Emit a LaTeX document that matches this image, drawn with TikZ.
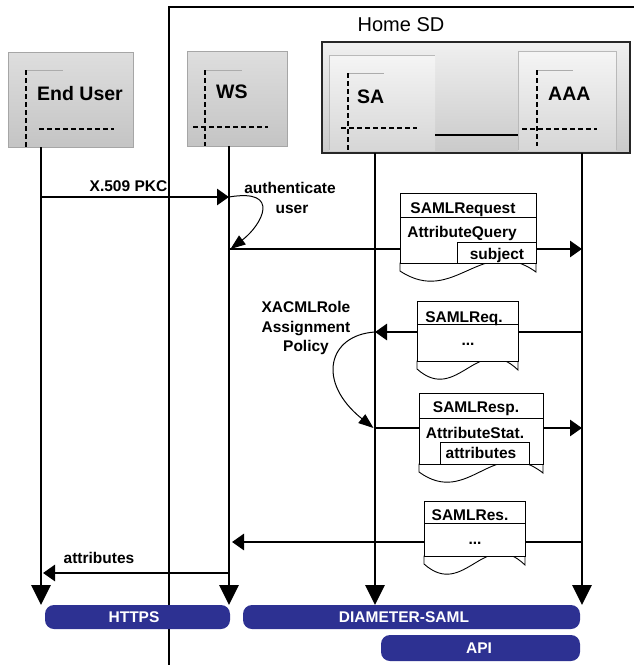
\documentclass[tikz,border=0pt]{standalone}
\usepackage{fontspec}
\setmainfont{Liberation Sans}
\usetikzlibrary{arrows.meta}

\definecolor{barblue}{RGB}{45,49,146}

\tikzset{
  lbl/.style={font=\bfseries\fontsize{15.5}{17}\selectfont, inner sep=0pt, anchor=base},
  big/.style={font=\bfseries\fontsize{19.5}{21}\selectfont, inner sep=0pt, anchor=base west},
  life/.style={line width=2.8pt, -{Triangle[length=20pt,width=19pt]}},
  msg/.style={line width=2.8pt, -{Triangle[length=12pt,width=16pt]}},
  loopcurve/.style={line width=1pt, -{Triangle[length=15pt,width=11pt]}},
  dsh/.style={line width=1.2pt, dash pattern=on 5pt off 3pt},
  lcap/.style={line width=0.8pt, draw=gray!65},
  actorbox/.style={draw=gray!70, line width=0.8pt, top color=gray!26, bottom color=gray!46},
  panel/.style={top color=gray!8, bottom color=gray!32},
  docbox/.style={draw=black, fill=white, line width=0.9pt},
  bar/.style={fill=barblue, rounded corners=9pt},
  bartext/.style={lbl, text=white}
}

% document with a wavy lower edge: left, right, bottom of the body
\newcommand\docwave[3]{%
  \path[docbox] (#1,#3) -- (#1,#3+8)
    .. controls ({#1+0.4*(#2-#1)},#3+44) and ({#1+0.6*(#2-#1)},#3-30) .. (#2,#3+9)
    -- (#2,#3) -- cycle;}

\begin{document}
\begin{tikzpicture}[x=1pt,y=-1pt]
\useasboundingbox (0,0) rectangle (634,665);

% Home SD frame
\draw[line width=1.8pt] (169,665) -- (169,7) -- (634,7);
\node[font=\fontsize{20}{22}\selectfont, inner sep=0pt, anchor=base] (homesd) at (401,31) {Home SD};

% End User
\node[actorbox, minimum width=125pt, minimum height=95pt, inner sep=0pt] (eubox) at (70.5,99.5) {};
\draw[lcap] (26,70) -- (63,70);
\draw[dsh] (26,70) -- (26,147);
\draw[dsh] (39,129) -- (114,129);
\node[big] (eutext) at (37,100) {End User};

% WS
\node[actorbox, minimum width=100pt, minimum height=95pt, inner sep=0pt] (wsbox) at (237,98.5) {};
\draw[lcap] (205,70) -- (242,70);
\draw[dsh] (205,70) -- (205,146);
\draw[dsh] (193,127) -- (268,127);
\node[big] (wstext) at (216,98) {WS};

% SA / AAA group
\node[draw=black!85, line width=1.8pt, top color=gray!12, bottom color=gray!42,
      minimum width=308pt, minimum height=111pt, inner sep=0pt] (group) at (476,97.5) {};
\fill[panel] (329,55) rectangle (435,150);
\draw[line width=0.8pt, draw=gray!55] (329,150) -- (329,55) -- (435,55);
\fill[panel] (518,51) rectangle (616,150);
\draw[line width=0.8pt, draw=gray!55] (518,150) -- (518,51) -- (616,51) -- (616,150);
\draw[line width=1.4pt] (435,135) -- (518,135);
\draw[lcap] (348,73) -- (384,73);
\draw[dsh] (348,73) -- (348,152);
\draw[dsh] (341,128) -- (417,128);
\node[big] (satext) at (357,103) {SA};
\draw[lcap] (537,70) -- (573,70);
\draw[dsh] (537,70) -- (537,146);
\draw[dsh] (522,129) -- (597,129);
\node[big] (aaatext) at (548,100) {AAA};

% lifelines
\coordinate (eu) at (41,147);
\coordinate (ws) at (229,146);
\coordinate (sa) at (375,153);
\coordinate (aaa) at (582,153);
\coordinate (lend) at (0,605);
\draw[life] (eu) -- (eu |- lend);
\draw[life] (ws) -- (ws |- lend);
\draw[life] (sa) -- (sa |- lend);
\draw[life] (aaa) -- (aaa |- lend);

% message rows
\coordinate (m1) at (0,197);
\coordinate (m2) at (0,249);
\coordinate (m3) at (0,332);
\coordinate (m4) at (0,428);
\coordinate (m5) at (0,542);
\coordinate (m6) at (0,573);

\draw[msg] (eu |- m1) -- (ws |- m1);
\node[lbl] (pkc) at (128.5,191) {X.509 PKC};

\draw[loopcurve] (ws |- m1) .. controls (282,188) and (262,225) .. ([xshift=1.5pt]ws |- m2);
\node[lbl] (auth1) at (290,193) {authenticate};
\node[lbl] (auth2) at (292,213) {user};

\draw[msg] (ws |- m2) -- (aaa |- m2);
\draw[msg] (aaa |- m3) -- (sa |- m3);

\draw[loopcurve] (sa |- m3) .. controls (328,335) and (316,382) .. ([xshift=-1.5pt]sa |- m4);
\node[lbl] (pol1) at (306,312) {XACMLRole};
\node[lbl] (pol2) at (306,332) {Assignment};
\node[lbl] (pol3) at (306,351) {Policy};

\draw[msg] (sa |- m4) -- (aaa |- m4);
\draw[msg] (aaa |- m5) -- ([xshift=3pt]ws |- m5);
\draw[msg] (ws |- m6) -- ([xshift=2pt]eu |- m6);
\node[lbl] (attr) at (99,563) {attributes};

% SAMLRequest
\docwave{400}{536}{263}
\draw[docbox] (400,193) rectangle (536,217);
\draw[docbox] (400,217) rectangle (536,263);
\draw[docbox] (457,242) rectangle (536,263);
\node[lbl] (rq1) at (463,213) {SAMLRequest};
\node[lbl] (rq2) at (462,237) {AttributeQuery};
\node[lbl] (rq3) at (497,259) {subject};

% SAMLReq.
\docwave{417}{518}{361}
\draw[docbox] (417,301) rectangle (518,324);
\draw[docbox] (417,324) rectangle (518,361);
\node[lbl] (rqs1) at (464,322) {SAMLReq.};
\node[lbl] (rqs2) at (468,345) {...};

% SAMLResp.
\docwave{419}{543}{464}
\draw[docbox] (419,393) rectangle (543,418);
\draw[docbox] (419,418) rectangle (543,464);
\draw[docbox] (440,442) rectangle (529,464);
\node[lbl] (rs1) at (476,412) {SAMLResp.};
\node[lbl] (rs2) at (475,438) {AttributeStat.};
\node[lbl] (rs3) at (481,458) {attributes};

% SAMLRes.
\docwave{424}{525}{556}
\draw[docbox] (424,501) rectangle (525,523);
\draw[docbox] (424,523) rectangle (525,556);
\node[lbl] (rr1) at (470,520) {SAMLRes.};
\node[lbl] (rr2) at (475,544) {...};

% protocol bars
\fill[bar] (45,605) rectangle (230,629);
\node[bartext] (https) at (134,622) {HTTPS};
\fill[bar] (243,605) rectangle (580,629);
\node[bartext] (diam) at (404,622) {DIAMETER-SAML};
\fill[bar] (381,635) rectangle (580,661);
\node[bartext] (api) at (479,653) {API};
\end{tikzpicture}
\end{document}
